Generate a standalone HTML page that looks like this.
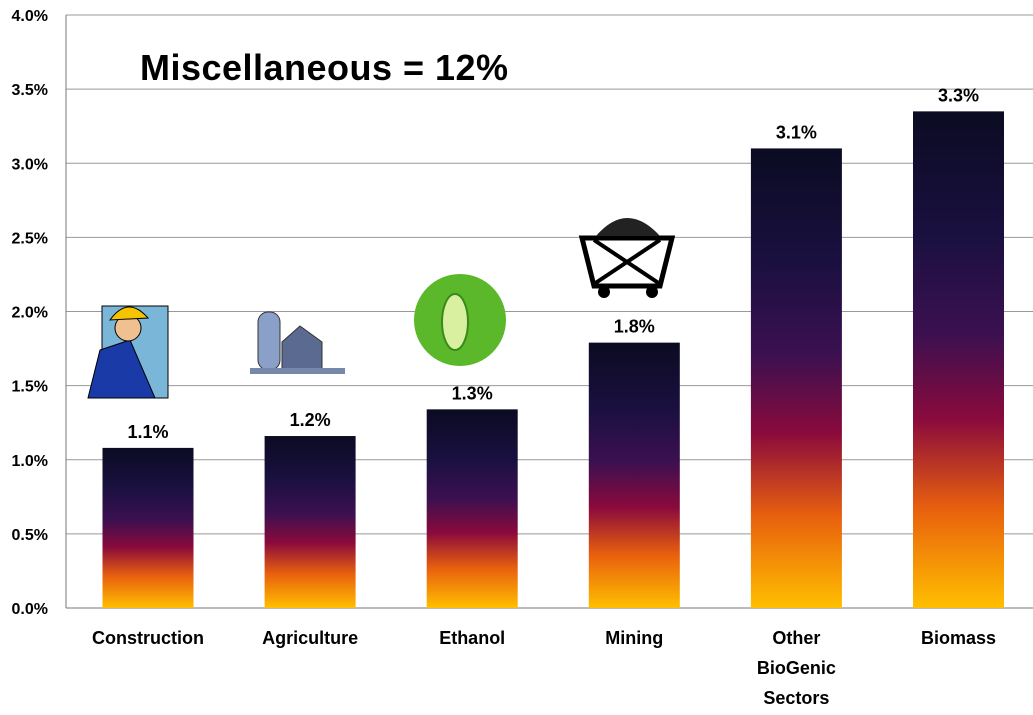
<!DOCTYPE html>
<html><head><meta charset="utf-8"><style>
body{margin:0;background:#fff}
svg{display:block;font-family:"Liberation Sans",Arial,sans-serif}
</style></head><body>
<svg id="c" width="1033" height="715">
<defs>
<linearGradient id="g" x1="0" y1="0" x2="0" y2="1">
<stop offset="0" stop-color="#0b0b22"/>
<stop offset="0.25" stop-color="#1a1040"/>
<stop offset="0.45" stop-color="#3c1050"/>
<stop offset="0.62" stop-color="#8a0a3c"/>
<stop offset="0.8" stop-color="#e8600e"/>
<stop offset="1" stop-color="#ffbf00"/>
</linearGradient>
</defs>
<g id="grid"></g><g id="bars"></g><g id="icons"></g>
<text x="140" y="80" font-size="36" font-weight="bold" textLength="368">Miscellaneous = 12%</text>
</svg>
<script>
const categories=["Construction","Agriculture","Ethanol","Mining","Other|BioGenic|Sectors","Biomass"];
const values=[1.08,1.16,1.34,1.79,3.10,3.35];
const labels=["1.1%","1.2%","1.3%","1.8%","3.1%","3.3%"];
const ticks=[0,0.5,1,1.5,2,2.5,3,3.5,4];
const NS="http://www.w3.org/2000/svg";
const x0=66,x1=1033,y0=608,yTop=15,maxV=4;
const y=v=>y0-(v/maxV)*(y0-yTop);
const band=162.1;
const xc=i=>148+band*i;
function mk(tag,attrs,parent){const e=document.createElementNS(NS,tag);for(const k in attrs)e.setAttribute(k,attrs[k]);parent.appendChild(e);return e;}
const grid=document.getElementById('grid'),bars=document.getElementById('bars');
ticks.forEach(t=>{
 const l=mk('line',{x1:x0,x2:x1,y1:y(t),y2:y(t),stroke:t===0?'#777':'#999','stroke-width':1},grid);
 
 
 const tx=mk('text',{x:48,y:y(t)+6,'text-anchor':'end','font-size':16,'font-weight':'bold'},grid);
 tx.textContent=t.toFixed(1)+'%';
 
 
});
const ax=mk('line',{x1:x0,x2:x0,y1:yTop,y2:y0,stroke:'#777'},grid);


categories.forEach((c,i)=>{
 const w=91,cx=xc(i);
 const r=mk('rect',{x:cx-w/2,y:y(values[i]),width:w,height:y0-y(values[i]),fill:'url(#g)'},bars);
 
 
 const v=mk('text',{x:cx,y:y(values[i])-10,'text-anchor':'middle','font-size':18,'font-weight':'bold'},bars);
 v.textContent=labels[i];
 
 
 c.split('|').forEach((p,j)=>{
  const t=mk('text',{x:cx,y:644+j*30,'text-anchor':'middle','font-size':18,'font-weight':'bold'},bars);
  t.textContent=p;
  
  
 });
});
const ic=document.getElementById('icons');
ic.innerHTML=`
<g>
<rect x="102" y="306" width="66" height="92" fill="#7ab6d8" stroke="#000"/>
<path d="M88 398 L100 350 L130 340 L155 398Z" fill="#1a3aa8" stroke="#000"/>
<circle cx="128" cy="328" r="13" fill="#f0c090" stroke="#000"/>
<path d="M110 320 Q128 295 148 318Z" fill="#f5c400" stroke="#000"/>
</g>
<g>
<rect x="258" y="312" width="22" height="58" rx="10" fill="#8aa0c8" stroke="#333"/>
<path d="M282 372 L282 342 L300 326 L322 342 L322 372Z" fill="#5a6a90" stroke="#333"/>
<rect x="250" y="368" width="95" height="6" fill="#7888aa"/>
</g>
<g>
<circle cx="460" cy="320" r="46" fill="#5ab82a"/>
<ellipse cx="455" cy="322" rx="13" ry="28" fill="#d8f0a0" stroke="#3a8a1a" stroke-width="2"/>
</g>
<g>
<path d="M582 238 L672 238 L660 286 L594 286Z" fill="#fff" stroke="#000" stroke-width="5"/>
<path d="M594 240 L660 284 M660 240 L594 284" stroke="#000" stroke-width="4"/>
<circle cx="604" cy="292" r="6" fill="#000"/><circle cx="652" cy="292" r="6" fill="#000"/>
<path d="M596 236 Q627 200 660 236Z" fill="#222"/>
</g>`;
</script>
</body></html>
